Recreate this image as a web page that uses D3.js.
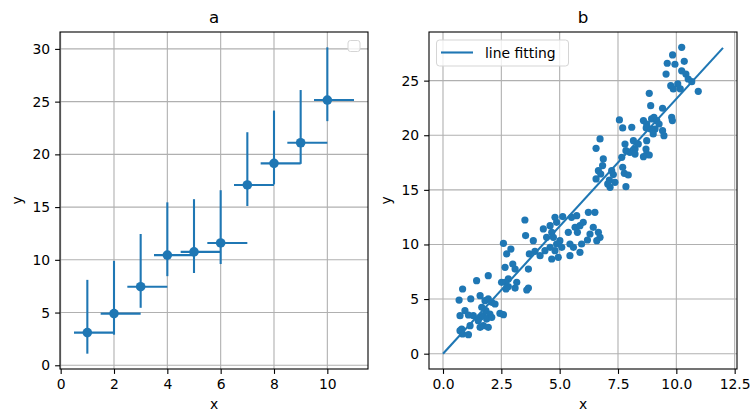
<!DOCTYPE html>
<html lang="en">
  <head>
    <meta charset="UTF-8" />
    <title>a / b</title>
    <script src="https://d3js.org/d3.v7.min.js" charset="utf-8"></script>
    <style>
      body { margin: 0; background: #fff; }
      text { font-family: "DejaVu Sans", sans-serif; fill: #000; }
    </style>
  </head>
  <body>
    <div id="chart"></div>
    <script>
      // panel a: error bar data
      const errX = [1, 2, 3, 4, 5, 6, 7, 8, 9, 10];
      const errY = [3.1, 4.9, 7.45, 10.45, 10.75, 11.6, 17.1, 19.15, 21.1, 25.15];
      const xErr = [0.5, 1.0]; // [left, right]
      const yErr = [2, 5];     // [down, up]

      // panel b: scatter + fitted line
      const scatterX = [10.23, 9.84, 9.61, 9.94, 10.34, 9.56, 10.23, 10.41, 10.66, 10.51, 9.76, 10.06, 9.87, 10.17, 10.94,
        8.84, 9.41, 8.9, 9.8, 9.83, 7.56, 7.7, 8.09, 8.59, 8.73, 8.94, 9.04, 9.16, 9.26, 9.09, 8.9, 9.01, 9.41, 9.47, 8.71,
        7.8, 8.16, 8.37, 8.23, 8.01, 8.23, 8.73, 8.7, 8.73, 8.84, 8.59, 7.66, 7.84,
        6.56, 6.73, 6.87, 6.84, 6.66, 6.76, 6.56, 7.23, 7.3, 7.13, 7.16, 7.06, 7.37, 7.7, 7.77, 7.94, 7.84,
        3.51, 3.54, 3.87, 4.3, 4.59, 4.8, 5.13, 4.87, 4.66, 4.44, 4.73, 5.01, 4.87, 5.09, 4.8, 4.59, 4.37, 4.16, 4.66, 4.94,
        3.7, 3.94, 3.66, 3.59, 5.44, 5.44, 5.59, 5.73, 5.66, 5.87, 5.76, 6.01, 6.23, 6.51, 6.3, 6.44, 6.66, 6.73, 6.59,
        5.87, 5.94, 6.19, 5.51, 5.37,
        2.59, 2.73, 2.91, 2.99, 3.09, 2.66, 3.16, 3.09, 2.8, 2.66, 2.8, 2.51, 2.7, 3.66, 2.44, 2.59,
        0.84, 0.69, 1.19, 1.44, 1.94, 0.73, 0.94, 1.09, 1.3, 1.59, 1.51, 1.73, 1.59, 1.8, 1.94, 2.09, 2.23, 1.66, 1.84,
        2.01, 1.87, 1.73, 1.94, 1.59, 1.16, 0.8, 0.73, 0.84, 1.09, 2.09];
      const scatterY = [28.05, 27.35, 26.59, 26.5, 26.77, 25.6, 25.9, 25.6, 24.9, 25.15, 24.54, 24.7, 24.24, 24.24, 24.02,
        23.84, 22.47, 22.71, 21.64, 21.34, 21.4, 20.67, 20.73, 21.34, 21.03, 21.49, 21.64, 21.34, 21.03, 20.57, 20.57, 20.12, 20.42, 19.96, 20.67,
        19.2, 19.5, 19.2, 18.74, 18.44, 18.28, 19.5, 18.74, 18.28, 18.19, 18.04, 17.98, 18.59,
        18.8, 19.66, 17.83, 17.22, 16.76, 16.45, 16.0, 16.76, 16.4, 15.9, 15.23, 15.54, 15.69, 17.06, 16.51, 16.36, 15.29,
        12.24, 10.81, 10.35, 11.42, 11.72, 12.48, 12.55, 12.03, 11.11, 10.65, 10.65, 10.35, 10.04, 9.74, 9.43, 9.74, 9.43, 8.97, 8.67, 8.82,
        9.13, 9.37, 6.01, 5.83, 10.04, 8.97, 9.74, 12.64, 11.57, 11.72, 11.11, 12.03, 12.94, 12.94, 10.96, 11.57, 11.11, 10.65, 10.35,
        9.28, 10.04, 10.41, 12.48, 11.11,
        10.1, 9.13, 9.58, 8.21, 7.75, 7.91, 6.53, 6.01, 6.84, 6.53, 6.14, 6.53, 5.92, 7.75, 3.69, 3.57,
        5.92, 4.91, 5.01, 6.68, 7.14, 3.48, 3.94, 3.54, 3.48, 3.33, 3.02, 3.48, 5.31, 4.85, 5.01, 4.7, 4.55, 4.24, 3.94,
        3.63, 3.17, 2.56, 2.41, 2.41, 2.56, 2.26, 2.11, 1.8, 1.74, 3.33];
      const fitX = [0, 12];
      const fitY = [0, 28];

      const aXTicks = [0, 2, 4, 6, 8, 10];
      const aYTicks = [0, 5, 10, 15, 20, 25, 30];
      const bXTicks = [0, 2.5, 5, 7.5, 10, 12.5];
      const bYTicks = [0, 5, 10, 15, 20, 25];

      const blue = "#1f77b4";
      const width = 751, height = 414;

      const svg = d3.select("#chart").append("svg")
        .attr("width", width).attr("height", height);

      // matplotlib style 5% padding
      function pad(lo, hi) {
        const m = (hi - lo) * 0.05;
        return [lo - m, hi + m];
      }

      function panel(box, xDom, yDom, xTicks, yTicks, xFmt, title) {
        const x = d3.scaleLinear().domain(xDom).range([box.left, box.right]);
        const y = d3.scaleLinear().domain(yDom).range([box.bottom, box.top]);
        const g = svg.append("g");

        // grid
        g.selectAll(".gx").data(xTicks).enter().append("line")
          .attr("x1", d => x(d)).attr("x2", d => x(d))
          .attr("y1", box.top).attr("y2", box.bottom)
          .attr("stroke", "#b0b0b0").attr("stroke-width", 1.1);
        g.selectAll(".gy").data(yTicks).enter().append("line")
          .attr("x1", box.left).attr("x2", box.right)
          .attr("y1", d => y(d)).attr("y2", d => y(d))
          .attr("stroke", "#b0b0b0").attr("stroke-width", 1.1);

        const xAxis = d3.axisBottom(x).tickValues(xTicks).tickFormat(xFmt)
          .tickSize(4.9).tickPadding(4.9);
        const yAxis = d3.axisLeft(y).tickValues(yTicks).tickFormat(d3.format("d"))
          .tickSize(4.9).tickPadding(4.9);
        const ax = svg.append("g").attr("transform", `translate(0,${box.bottom})`).call(xAxis);
        const ay = svg.append("g").attr("transform", `translate(${box.left},0)`).call(yAxis);
        [ax, ay].forEach(a => {
          a.select(".domain").remove();
          a.selectAll("line").attr("stroke", "#000").attr("stroke-width", 1.1);
          a.selectAll("text").attr("font-size", 13.9).attr("font-family", "DejaVu Sans").attr("fill", "#000");
        });

        // spines drawn on top later
        const front = () => svg.append("rect")
          .attr("x", box.left).attr("y", box.top)
          .attr("width", box.right - box.left).attr("height", box.bottom - box.top)
          .attr("fill", "none").attr("stroke", "#000").attr("stroke-width", 1.1);

        svg.append("text").attr("x", (box.left + box.right) / 2).attr("y", box.top - 9)
          .attr("text-anchor", "middle").attr("font-size", 16.7).text(title);
        svg.append("text").attr("x", (box.left + box.right) / 2).attr("y", 409)
          .attr("text-anchor", "middle").attr("font-size", 13.9).text("x");
        svg.append("text")
          .attr("transform", `translate(${box.left - 38},${(box.top + box.bottom) / 2}) rotate(-90)`)
          .attr("text-anchor", "middle").attr("font-size", 13.9).text("y");

        return { x, y, g, front };
      }

      // ---- panel a ----
      const aXDom = pad(d3.min(errX) - xErr[0], d3.max(errX) + xErr[1]);
      const aYDom = pad(d3.min(errY) - yErr[0], d3.max(errY) + yErr[1]);
      const A = panel({ left: 60, right: 368, top: 32, bottom: 369 }, aXDom, aYDom,
        aXTicks, aYTicks, d3.format("d"), "a");

      const pts = errX.map((d, i) => ({ x: d, y: errY[i] }));
      A.g.selectAll(".eh").data(pts).enter().append("line")
        .attr("x1", d => A.x(d.x - xErr[0])).attr("x2", d => A.x(d.x + xErr[1]))
        .attr("y1", d => A.y(d.y)).attr("y2", d => A.y(d.y))
        .attr("stroke", blue).attr("stroke-width", 2.1);
      A.g.selectAll(".ev").data(pts).enter().append("line")
        .attr("x1", d => A.x(d.x)).attr("x2", d => A.x(d.x))
        .attr("y1", d => A.y(d.y - yErr[0])).attr("y2", d => A.y(d.y + yErr[1]))
        .attr("stroke", blue).attr("stroke-width", 2.1);
      A.g.selectAll(".pt").data(pts).enter().append("circle")
        .attr("cx", d => A.x(d.x)).attr("cy", d => A.y(d.y)).attr("r", 4.8)
        .attr("fill", blue);
      A.front();
      // empty legend box
      svg.append("rect").attr("x", 348).attr("y", 40.5).attr("width", 12).attr("height", 11)
        .attr("rx", 2.5).attr("fill", "#fff").attr("fill-opacity", 0.8)
        .attr("stroke", "#d5d5d5").attr("stroke-width", 1);

      // ---- panel b ----
      const bXDom = pad(Math.min(d3.min(scatterX), d3.min(fitX)), Math.max(d3.max(scatterX), d3.max(fitX)));
      const bYDom = pad(Math.min(d3.min(scatterY), d3.min(fitY)), Math.max(d3.max(scatterY), d3.max(fitY)));
      const B = panel({ left: 429, right: 737, top: 32, bottom: 369 }, bXDom, bYDom,
        bXTicks, bYTicks, d3.format(".1f"), "b");

      B.g.selectAll(".sc").data(scatterX).enter().append("circle")
        .attr("cx", d => B.x(d)).attr("cy", (d, i) => B.y(scatterY[i])).attr("r", 3.6)
        .attr("fill", blue);
      B.g.append("path")
        .datum(fitX.map((d, i) => [d, fitY[i]]))
        .attr("d", d3.line().x(d => B.x(d[0])).y(d => B.y(d[1])))
        .attr("fill", "none").attr("stroke", blue).attr("stroke-width", 2.1);
      B.front();

      // legend
      const lg = svg.append("g");
      lg.append("rect").attr("x", 436.5).attr("y", 40).attr("width", 132).attr("height", 26)
        .attr("rx", 3).attr("fill", "#fff").attr("fill-opacity", 0.8)
        .attr("stroke", "#d5d5d5").attr("stroke-width", 1);
      lg.append("line").attr("x1", 441).attr("x2", 473).attr("y1", 52.5).attr("y2", 52.5)
        .attr("stroke", blue).attr("stroke-width", 2.1);
      lg.append("text").attr("x", 485).attr("y", 57.5).attr("font-size", 13.9).text("line fitting");
    </script>
  </body>
</html>
